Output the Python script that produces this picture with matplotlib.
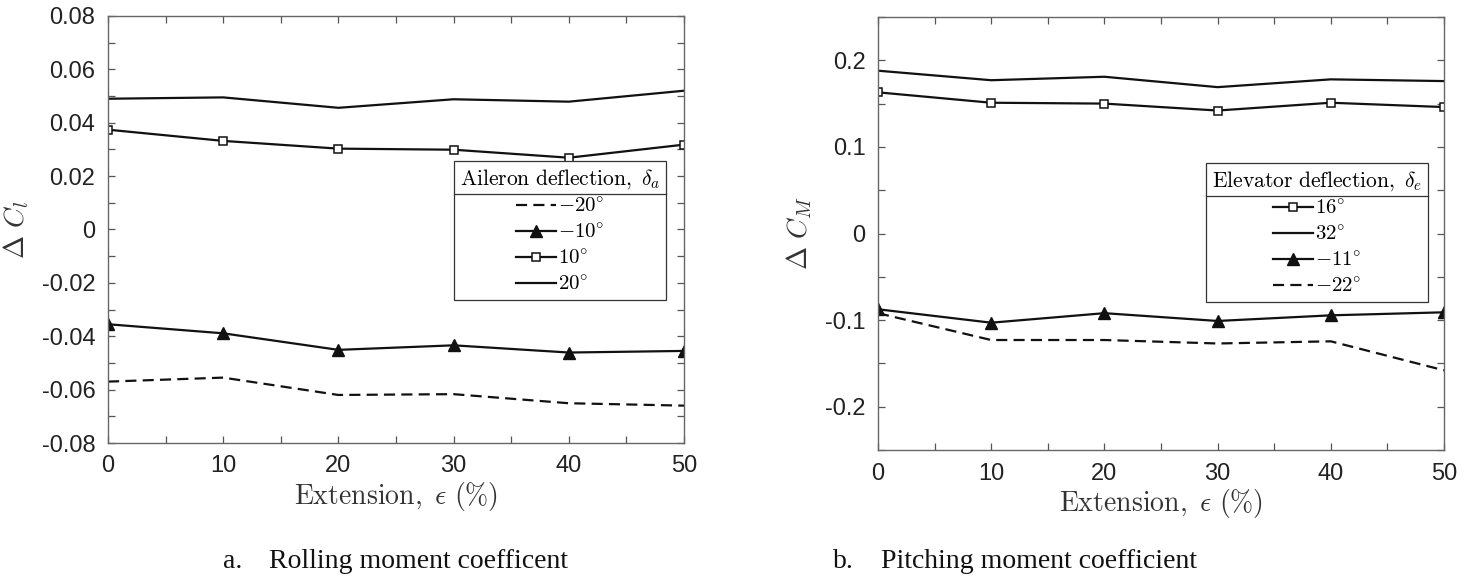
import numpy as np
import matplotlib
matplotlib.use('Agg')
import matplotlib.pyplot as plt
from matplotlib.lines import Line2D
from matplotlib.ticker import MultipleLocator

plt.rcParams['mathtext.fontset'] = 'cm'
plt.rcParams['font.family'] = ['Liberation Sans', 'DejaVu Sans']

# data
extension = [0, 10, 20, 30, 40, 50]

# rolling moment, aileron deflection
cl_m20 = [-0.057, -0.0555, -0.062, -0.0617, -0.0651, -0.066]
cl_m10 = [-0.0355, -0.0389, -0.0451, -0.0434, -0.0461, -0.0455]
cl_p10 = [0.0374, 0.0332, 0.0303, 0.0299, 0.0269, 0.0318]
cl_p20 = [0.049, 0.0495, 0.0456, 0.0488, 0.0479, 0.052]

# pitching moment, elevator deflection
cm_p16 = [0.163, 0.151, 0.150, 0.142, 0.151, 0.146]
cm_p32 = [0.188, 0.177, 0.181, 0.169, 0.178, 0.176]
cm_m11 = [-0.0875, -0.103, -0.092, -0.101, -0.0945, -0.091]
cm_m22 = [-0.092, -0.123, -0.123, -0.127, -0.1245, -0.158]

W, H = 1476, 577
fig = plt.figure(figsize=(W / 100, H / 100), dpi=100)

def px_axes(x0, x1, y0, y1):
    return fig.add_axes([x0 / W, 1 - y1 / H, (x1 - x0) / W, (y1 - y0) / H])

ax1 = px_axes(108, 684, 16, 443)
ax2 = px_axes(878, 1444, 17, 450)

lc = '#111111'
lw = 1.6
dash = (5, 2.8)
ax1.plot(extension, cl_m20, '--', color=lc, lw=lw, dashes=dash, label=r'$-20^{\circ}$')
ax1.plot(extension, cl_m10, '-^', color=lc, lw=lw, ms=8, mfc=lc, label=r'$-10^{\circ}$')
ax1.plot(extension, cl_p10, '-s', color=lc, lw=lw, ms=6, mfc='white', mew=1.1, label=r'$10^{\circ}$')
ax1.plot(extension, cl_p20, '-', color=lc, lw=lw, label=r'$20^{\circ}$')

ax2.plot(extension, cm_p16, '-s', color=lc, lw=lw, ms=6, mfc='white', mew=1.1, label=r'$16^{\circ}$')
ax2.plot(extension, cm_p32, '-', color=lc, lw=lw, label=r'$32^{\circ}$')
ax2.plot(extension, cm_m11, '-^', color=lc, lw=lw, ms=8, mfc=lc, label=r'$-11^{\circ}$')
ax2.plot(extension, cm_m22, '--', color=lc, lw=lw, dashes=dash, label=r'$-22^{\circ}$')

ax1.set_xlim(0, 50)
ax1.set_ylim(-0.08, 0.08)
ax1.set_yticks(np.arange(-0.08, 0.081, 0.02))
ax1.set_yticklabels(['-0.08', '-0.06', '-0.04', '-0.02', '0', '0.02', '0.04', '0.06', '0.08'])
ax1.yaxis.set_minor_locator(MultipleLocator(0.01))

ax2.set_xlim(0, 50)
ax2.set_ylim(-0.25, 0.25)
ax2.set_yticks([-0.2, -0.1, 0, 0.1, 0.2])
ax2.set_yticklabels(['-0.2', '-0.1', '0', '0.1', '0.2'])
ax2.yaxis.set_minor_locator(MultipleLocator(0.05))

for ax in (ax1, ax2):
    ax.set_xticks(extension)
    ax.xaxis.set_minor_locator(MultipleLocator(5))
    ax.tick_params(which='both', direction='in', top=True, right=True,
                   length=5, width=0.9, color='#555555')
    ax.tick_params(which='major', labelsize=17, labelcolor='#222222', pad=9)
    for s in ax.spines.values():
        s.set_color('#666666')
        s.set_linewidth(1.0)
    ax.set_xlabel(r'$\mathrm{Extension,}\ \epsilon\ (\%)$', fontsize=20, color='#333333', labelpad=2)

ax1.set_ylabel(r'$\Delta\ C_l$', fontsize=20, color='#333333', labelpad=8)
ax2.set_ylabel(r'$\Delta\ C_M$', fontsize=20, color='#333333', labelpad=8)

leg_kw = dict(loc='upper right', borderaxespad=0, fontsize=15, title_fontsize=15.5,
              fancybox=False, edgecolor='#333333', framealpha=1, alignment='center',
              handlelength=1.9, handletextpad=0.1, labelspacing=0.32, borderpad=0.28)
leg1 = ax1.legend(title=r'$\mathrm{Aileron\ deflection,}\ \delta_a$',
                  bbox_to_anchor=(0.969, 0.660), **leg_kw)
leg2 = ax2.legend(title=r'$\mathrm{Elevator\ deflection,}\ \delta_e$',
                  bbox_to_anchor=(0.972, 0.663), **leg_kw)
for leg in (leg1, leg2):
    leg.get_frame().set_linewidth(0.9)

# separator line under each legend title
fig.canvas.draw()
r = fig.canvas.get_renderer()
for leg in (leg1, leg2):
    fb = leg.get_frame().get_window_extent(r)
    tb = leg.get_title().get_window_extent(r)
    ysep = tb.y0 - 3
    fig.add_artist(Line2D([fb.x0 / W, fb.x1 / W], [ysep / H, ysep / H],
                          color='#333333', lw=0.9, transform=fig.transFigure))

# captions
cap = dict(fontsize=20, family=['Liberation Serif', 'DejaVu Serif'], va='baseline', color='#111111')
fig.text(223 / W, 1 - 568 / H, 'a.', **cap)
fig.text(269 / W, 1 - 568 / H, 'Rolling moment coefficent', **cap)
fig.text(833 / W, 1 - 568 / H, 'b.', **cap)
fig.text(881 / W, 1 - 568 / H, 'Pitching moment coefficient', **cap)

plt.savefig('out.png', dpi=100)
plt.close()
